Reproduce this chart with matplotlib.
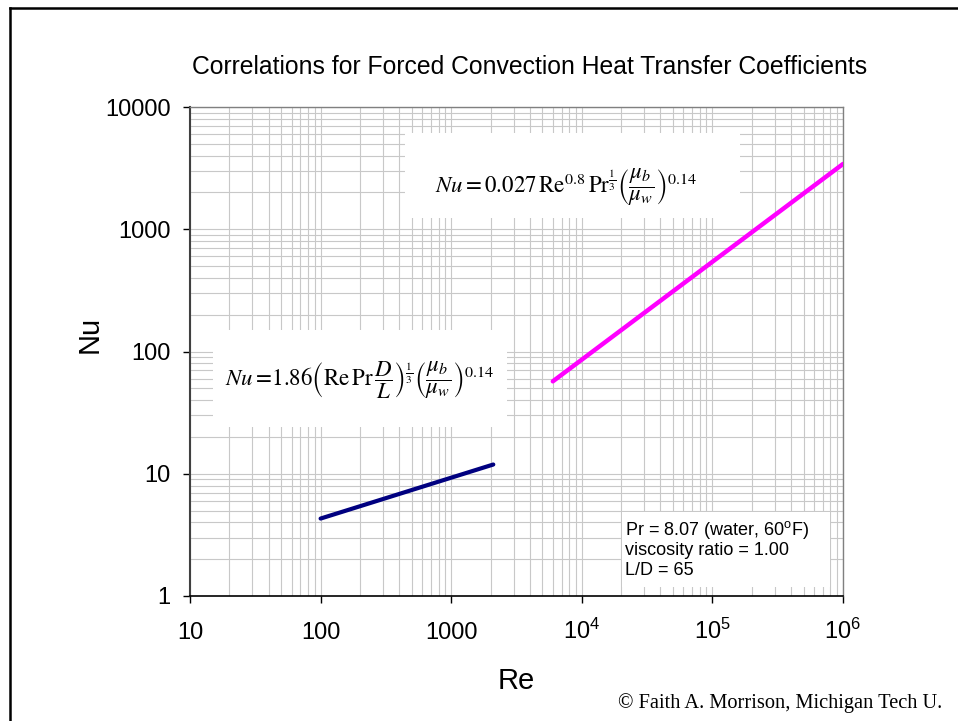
import numpy as np
import matplotlib
matplotlib.use('Agg')
import matplotlib.pyplot as plt
from matplotlib.patches import Rectangle
from matplotlib.lines import Line2D

# values (log-log straight lines, endpoints)
re_laminar = [100, 2100]
nu_laminar = [4.3, 11.9]
re_turbulent = [6000, 1.0e6]
nu_turbulent = [57, 3420]

x_ticks = [10, 100, 1000, 1e4, 1e5, 1e6]
x_ticklabels = ['10', '100', '1000',
                r'$\mathregular{10^4}$', r'$\mathregular{10^5}$', r'$\mathregular{10^6}$']
y_ticks = [1, 10, 100, 1000, 10000]
y_ticklabels = ['1', '10', '100', '1000', '10000']

title = 'Correlations for Forced Convection Heat Transfer Coefficients'
eq_laminar = (r'$Nu =\!1.86\left(\mathrm{Re}\,\mathrm{Pr}\,\dfrac{D}{L}\right)^{\frac{1}{3}}'
              r'\left(\dfrac{\mu_b}{\mu_w}\right)^{0.14}$')
eq_turbulent = (r'$Nu = 0.027\,\mathrm{Re}^{0.8}\,\mathrm{Pr}^{\frac{1}{3}}'
                r'\left(\dfrac{\mu_b}{\mu_w}\right)^{0.14}$')
info_lines = [r'Pr = 8.07 (water, 60$\mathregular{^o}$F)',
              'viscosity ratio = 1.00',
              'L/D = 65']
credit = '\u00a9 Faith A. Morrison, Michigan Tech U.'

W, H = 958, 721

def fx(px):
    return px / W

def fy(py):
    return 1 - py / H

plt.rcParams['font.family'] = ['Liberation Sans', 'DejaVu Sans']
plt.rcParams['mathtext.fontset'] = 'stix'

fig = plt.figure(figsize=(W / 100, H / 100), dpi=100)
ax = fig.add_axes([fx(190), fy(596), (843 - 190) / W, (596 - 107) / H])

ax.set_xscale('log')
ax.set_yscale('log')
ax.set_xlim(10, 1e6)
ax.set_ylim(1, 10000)

ax.set_axisbelow(True)
ax.grid(True, which='both', color='#c8c8c8', lw=0.8)

ax.plot(re_laminar, nu_laminar, color='#000080', lw=3, solid_capstyle='round', zorder=3)
ax.plot(re_turbulent, nu_turbulent, color='#ff00ff', lw=3.2, solid_capstyle='round', zorder=3)

ax.set_xticks(x_ticks)
ax.set_xticklabels(x_ticklabels)
ax.set_yticks(y_ticks)
ax.set_yticklabels(y_ticklabels)
ax.tick_params(which='major', direction='out', length=5, width=1, color='black',
               labelsize=17)
ax.tick_params(axis='x', pad=26)
ax.tick_params(axis='y', pad=9)
ax.tick_params(which='minor', length=0)
for lbl in ax.get_xticklabels():
    lbl.set_va('baseline')

for side in ['top', 'right']:
    ax.spines[side].set_color('#808080')
    ax.spines[side].set_linewidth(1)
ax.spines['left'].set_color('#404040')
ax.spines['left'].set_linewidth(1.5)
ax.spines['bottom'].set_color('black')
ax.spines['bottom'].set_linewidth(1.2)

ax.set_xlabel('Re', fontsize=21)
ax.set_ylabel('Nu', fontsize=21)
ax.xaxis.set_label_coords(0.5, -0.145)
ax.yaxis.set_label_coords(-0.133, 0.534)

# white boxes behind the annotations
for x0, y0, x1, y1 in [(405, 133, 740, 218), (213, 330, 507, 427), (622, 512, 830, 587)]:
    ax.add_patch(Rectangle((fx(x0), fy(y1)), (x1 - x0) / W, (y1 - y0) / H,
                           transform=fig.transFigure, facecolor='white',
                           edgecolor='none', zorder=2))

fig.text(fx(360), fy(386), eq_laminar, ha='center', va='baseline', fontsize=16.5)
fig.text(fx(566), fy(193), eq_turbulent, ha='center', va='baseline', fontsize=16.5)

for i, line in enumerate(info_lines):
    fig.text(fx(625), fy(535 + 20 * i), line, ha='left', va='baseline', fontsize=13)

fig.text(fx(530), fy(74), title, ha='center', va='baseline', fontsize=17.8)
fig.text(fx(942), fy(708), credit, ha='right', va='baseline', fontsize=14.7,
         family='Liberation Serif')

# page frame
fig.add_artist(Line2D([fx(10), fx(10)], [fy(8), 0], color='black', lw=1.8))
fig.add_artist(Line2D([fx(10), 1], [fy(8), fy(8)], color='black', lw=1.8))

fig.savefig('out.png', dpi=100)
